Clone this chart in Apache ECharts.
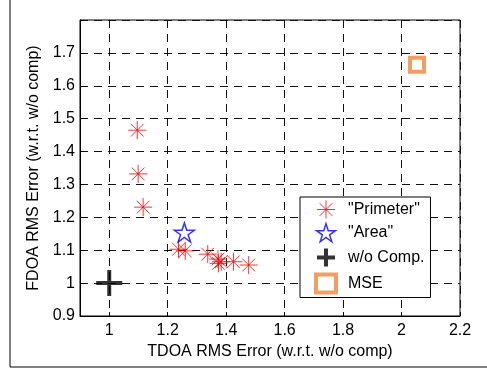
<!DOCTYPE html>
<html>
<head>
<meta charset="utf-8">
<script src="https://cdn.jsdelivr.net/npm/echarts@6/dist/echarts.min.js"></script>
<style>
    html, body { margin: 0; padding: 0; background: #fff; }
    #box { width: 487px; height: 370px; }
</style>
</head>
<body>
<div id="box"></div>
<script>
// values
var perimeterX = [1.096, 1.099, 1.116, 1.237, 1.260, 1.337, 1.372, 1.383, 1.374, 1.425, 1.477];
var perimeterY = [1.465, 1.332, 1.231, 1.103, 1.098, 1.088, 1.073, 1.065, 1.060, 1.065, 1.055];
var areaX = [1.257];
var areaY = [1.154];
var noCompX = [1.0];
var noCompY = [1.0];
var mseX = [2.053];
var mseY = [1.664];
var xTicks = [1, 1.2, 1.4, 1.6, 1.8, 2, 2.2];
var yTicks = [0.9, 1, 1.1, 1.2, 1.3, 1.4, 1.5, 1.6, 1.7];
var seriesNames = ['"Primeter"', '"Area"', 'w/o Comp.', 'MSE'];

function pairs(xs, ys) {
    return xs.map(function (x, i) { return [x, ys[i]]; });
}

var FONT = '"Liberation Sans", Arial, sans-serif';
var FS = 16;
var asterisk = 'path://M0,-10L0,10M-10,0L10,0M-7.07,-7.07L7.07,7.07M-7.07,7.07L7.07,-7.07';
var plus = 'path://M0,-10L0,10M-10,0L10,0';
var pentagram = 'path://M0,-10L2.25,-3.09L9.51,-3.09L3.63,1.18L5.88,8.09L0,3.82L-5.88,8.09L-3.63,1.18L-9.51,-3.09L-2.25,-3.09Z';

var myChart = echarts.init(document.getElementById('box'));

var gridLine = { show: true, lineStyle: { color: '#111', width: 1, type: [8, 6] } };

var option = {
    backgroundColor: '#fff',
    animation: false,
    textStyle: { fontFamily: FONT },
    grid: {
        left: 80, top: 20, width: 380, height: 296,
        show: true, borderColor: '#000', borderWidth: 1,
        containLabel: false
    },
    xAxis: {
        type: 'value',
        min: 0.9, max: 2.2,
        name: 'TDOA RMS Error (w.r.t. w/o comp)',
        nameLocation: 'middle',
        nameGap: 24,
        nameTextStyle: { color: '#000', fontSize: FS, fontFamily: FONT },
        axisLine: { show: true, onZero: false, lineStyle: { color: '#000', width: 1 } },
        axisTick: { show: true, inside: true, length: 4, customValues: xTicks, lineStyle: { color: '#000' } },
        axisLabel: { color: '#000', fontSize: FS, fontFamily: FONT, margin: 7, customValues: xTicks },
        splitLine: gridLine
    },
    yAxis: {
        type: 'value',
        min: 0.9, max: 1.8, interval: 0.1,
        name: 'FDOA RMS Error (w.r.t. w/o comp)',
        nameLocation: 'middle',
        nameGap: 34,
        nameTextStyle: { color: '#000', fontSize: FS, fontFamily: FONT },
        axisLine: { show: true, onZero: false, lineStyle: { color: '#000', width: 1 } },
        axisTick: { show: true, inside: true, length: 4, lineStyle: { color: '#000' } },
        axisLabel: {
            color: '#000', fontSize: FS, fontFamily: FONT, margin: 5,
            formatter: function (v) {
                var r = Math.round(v * 10) / 10;
                if (yTicks.indexOf(r) < 0) return '';
                return String(r);
            }
        },
        splitLine: gridLine
    },
    legend: {
        orient: 'vertical',
        left: 300, top: 197,
        padding: [3, 6, 3, 14],
        itemGap: 4,
        itemWidth: 20, itemHeight: 18,
        backgroundColor: '#fff',
        borderColor: '#000', borderWidth: 1,
        textStyle: { color: '#000', fontSize: FS, lineHeight: 18, fontFamily: FONT, padding: [0, 0, 0, 7] },
        data: [
            { name: seriesNames[0], itemStyle: { borderWidth: 1 } },
            { name: seriesNames[1], itemStyle: { borderWidth: 1.5 } },
            { name: seriesNames[2], itemStyle: { borderWidth: 4 } },
            { name: seriesNames[3], itemStyle: { borderWidth: 4 } }
        ]
    },
    graphic: [{
        type: 'polyline',
        shape: { points: [[10, 0], [10, 367], [487, 367]] },
        style: { stroke: '#000', lineWidth: 1, fill: null },
        silent: true
    }],
    series: [
        {
            name: seriesNames[0],
            type: 'scatter',
            symbol: asterisk,
            symbolSize: 18,
            itemStyle: { color: 'rgba(0,0,0,0)', borderColor: '#ff0000', borderWidth: 1 },
            data: pairs(perimeterX, perimeterY),
            z: 3
        },
        {
            name: seriesNames[1],
            type: 'scatter',
            symbol: pentagram,
            symbolSize: [20, 19],
            itemStyle: { color: 'rgba(0,0,0,0)', borderColor: '#0000ff', borderWidth: 1.5 },
            data: pairs(areaX, areaY),
            z: 3
        },
        {
            name: seriesNames[2],
            type: 'scatter',
            symbol: plus,
            symbolSize: 26,
            itemStyle: { color: 'rgba(0,0,0,0)', borderColor: '#000', borderWidth: 4 },
            data: pairs(noCompX, noCompY),
            z: 3
        },
        {
            name: seriesNames[3],
            type: 'scatter',
            symbol: 'rect',
            symbolSize: 14,
            itemStyle: { color: 'rgba(0,0,0,0)', borderColor: '#f0843c', borderWidth: 4 },
            data: pairs(mseX, mseY),
            z: 3
        }
    ]
};

if (option && typeof option === 'object') {
    myChart.setOption(option, true);
}
</script>
</body>
</html>
